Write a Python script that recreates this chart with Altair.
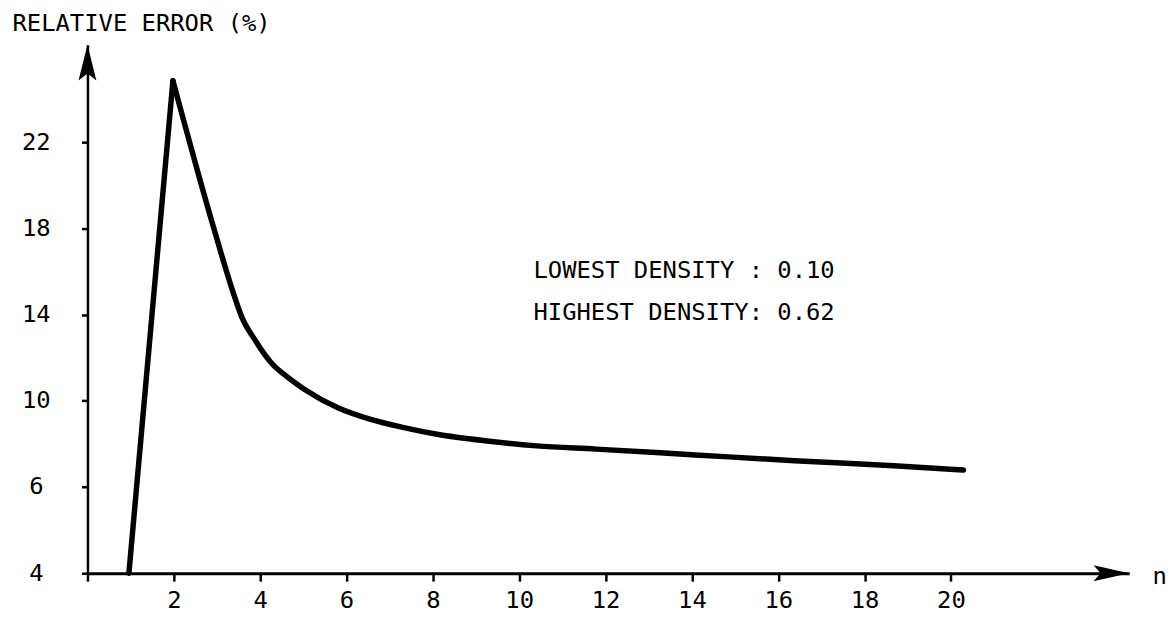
import altair as alt
import pandas as pd

# ---- data ----
n_values = [0.96, 1.5, 1.98, 2.92, 3.38, 3.57, 3.88, 4.26, 4.65, 5.03, 5.8, 6.56,
            7.33, 8.1, 9.25, 10.4, 11.78, 14.08, 16.38, 18.68, 20.29]
error_values = [4.0, 14.11, 24.85, 18.05, 14.99, 13.9, 12.82, 11.75, 11.07, 10.52, 9.67, 9.13,
                8.75, 8.44, 8.13, 7.9, 7.75, 7.48, 7.21, 6.98, 6.78]

x_ticks = [0, 2, 4, 6, 8, 10, 12, 14, 16, 18, 20]
y_ticks = [4, 6, 10, 14, 18, 22]
x_domain = [0, 24.13]
y_domain = [4, 6, 26.52]          # axis origin is labelled 4, regular spacing from 6 up

note_texts = ["LOWEST DENSITY : 0.10", "HIGHEST DENSITY: 0.62"]
note_n = [10.33, 10.33]
note_err = [16.0, 14.07]

W, H = 1049, 532
Y6 = 445
FONT = "DejaVu Sans Mono"
FS = 24

peak = error_values.index(max(error_values))
rise = pd.DataFrame({"n": n_values[:peak + 1], "err": error_values[:peak + 1]})
fall = pd.DataFrame({"n": n_values[peak:], "err": error_values[peak:]})
notes = pd.DataFrame({"n": note_n, "err": note_err, "t": note_texts})
arrow_y = pd.DataFrame({"n": [x_domain[0]], "err": [y_domain[-1]]})
arrow_x = pd.DataFrame({"n": [x_domain[1]], "err": [y_domain[0]]})

xs = alt.Scale(domain=x_domain, nice=False, zero=False)
ys = alt.Scale(domain=y_domain, range=[H, Y6, 0], nice=False, zero=False)

x_axis = alt.Axis(
    values=x_ticks,
    labelExpr="datum.value == 0 ? '' : datum.label",
    title="n", titleX=1079, titleY=10, titleAngle=0, titleAlign="center",
    titleBaseline="alphabetic", titleFont=FONT, titleFontSize=FS, titleFontWeight="normal",
    titleColor="black",
    labelFont=FONT, labelFontSize=FS, labelColor="black", labelPadding=8,
    tickSize=8, tickWidth=2.5, tickColor="black",
    domainWidth=3, domainColor="black", grid=False,
)
y_axis = alt.Axis(
    values=y_ticks,
    title="RELATIVE ERROR (%)", titleX=-76, titleY=-21, titleAngle=0, titleAlign="left",
    titleBaseline="middle", titleFont=FONT, titleFontSize=FS, titleFontWeight="normal",
    titleColor="black",
    labelFont=FONT, labelFontSize=FS, labelColor="black", labelAlign="center",
    labelBaseline="middle", labelPadding=46,
    tickSize=6, tickWidth=2.5, tickColor="black",
    domainWidth=2.5, domainColor="black", grid=False,
)


def xy():
    return dict(
        x=alt.X("n:Q", scale=xs, axis=x_axis),
        y=alt.Y("err:Q", scale=ys, axis=y_axis),
    )


line_up = alt.Chart(rise).mark_line(
    color="black", strokeWidth=5.5, interpolate="linear", strokeCap="round", strokeJoin="round"
).encode(**xy())

line_down = alt.Chart(fall).mark_line(
    color="black", strokeWidth=5.5, interpolate="monotone", strokeCap="round", strokeJoin="round"
).encode(**xy())

text = alt.Chart(notes).mark_text(
    align="left", baseline="middle", font=FONT, fontSize=FS, color="black"
).encode(text="t:N", **xy())

up = alt.Chart(arrow_y).mark_point(
    shape="M0,0 L-0.5,2 L0,1.6 L0.5,2 Z", filled=True, size=1296,
    color="black", opacity=1, strokeWidth=0,
).encode(**xy())

right = alt.Chart(arrow_x).mark_point(
    shape="M0,0 L-2,-0.45 L-1.6,0 L-2,0.45 Z", filled=True, size=1296,
    color="black", opacity=1, strokeWidth=0,
).encode(**xy())

chart = alt.layer(line_up, line_down, text, up, right).properties(
    width=W, height=H,
    padding={"left": 80, "top": 35, "right": 38, "bottom": 42},
    autosize=alt.AutoSizeParams(type="none"),
    background="white",
).configure_view(stroke=None)

chart.save("out.html", embed_options={"renderer": "svg", "actions": False})
